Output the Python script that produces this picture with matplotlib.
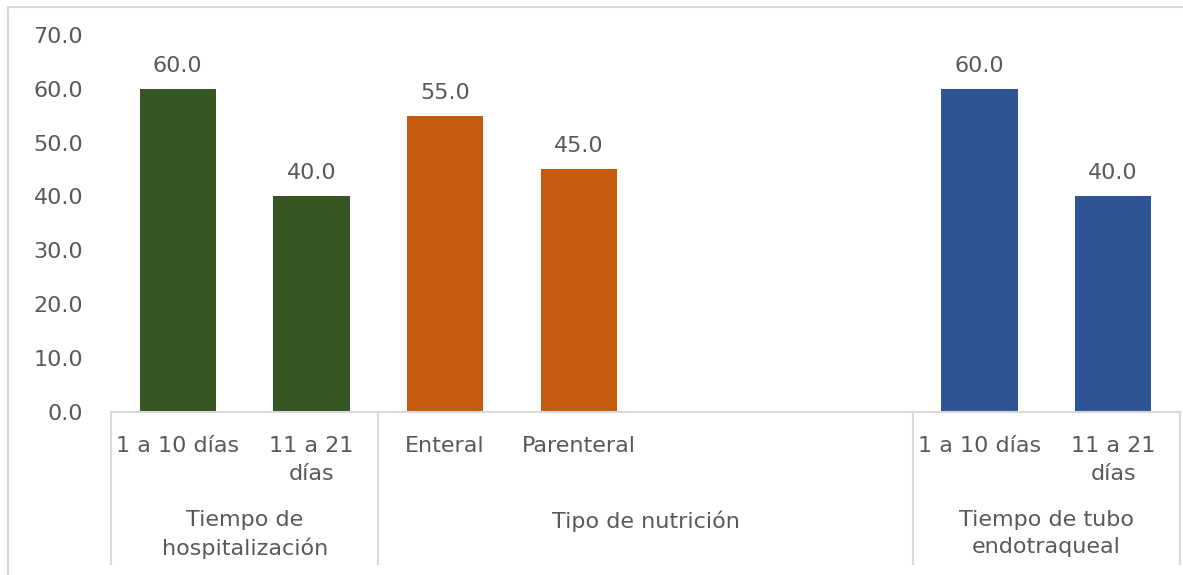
import matplotlib
matplotlib.use("Agg")
import matplotlib.pyplot as plt
from matplotlib.patches import Rectangle
import numpy as np

# ---- data ----
groups = ["Tiempo de\nhospitalización", "Tipo de nutrición", "Tiempo de tubo\nendotraqueal"]
group_sizes = [2, 4, 2]
categories = ["1 a 10 días", "11 a 21\ndías", "Enteral", "Parenteral", "", "", "1 a 10 días", "11 a 21\ndías"]
values = [60.0, 40.0, 55.0, 45.0, None, None, 60.0, 40.0]
group_colors = ["#375623", "#C55A11", "#2F5597"]
y_ticks = [0, 10, 20, 30, 40, 50, 60, 70]

W, H = 1183, 575
fig = plt.figure(figsize=(W / 100, H / 100), dpi=100)
plt.rcParams['font.family'] = ['DejaVu Sans']
txt_color = "#595959"
fs = 16
line_color = "#D9D9D9"

ax = fig.add_axes([111 / W, 1 - 411.5 / H, (1180 - 111) / W, (411.5 - 35) / H])
n = len(categories)
ax.set_xlim(-0.5, n - 0.5)
ax.set_ylim(0, 70)

# colors per slot
slot_colors = []
for g, size in enumerate(group_sizes):
    slot_colors += [group_colors[g]] * size

for i, v in enumerate(values):
    if v is None:
        continue
    ax.bar(i, v, width=0.57, color=slot_colors[i], zorder=2)
    ax.annotate(f"{v:.1f}", xy=(i, v), xytext=(0, 17), textcoords="offset pixels",
                ha="center", va="baseline", fontsize=fs, color=txt_color)

for s in ["top", "right", "left", "bottom"]:
    ax.spines[s].set_visible(False)
ax.axhline(0, color=line_color, lw=1.5, zorder=3, clip_on=False)

ax.set_yticks(y_ticks)
ax.set_yticklabels([f"{t:.1f}" for t in y_ticks], fontsize=fs, color=txt_color)
ax.tick_params(axis="y", length=0, pad=20)
ax.set_xticks([])

# category labels
for i, c in enumerate(categories):
    if not c:
        continue
    ax.annotate(c, xy=(i, 0), xycoords=("data", "axes fraction"), xytext=(0, -24),
                textcoords="offset pixels", ha="center", va="top", fontsize=fs,
                color=txt_color, linespacing=1.55, annotation_clip=False)

# group labels and separators
start = 0
bounds = [-0.5]
for g, size in enumerate(group_sizes):
    center = start + (size - 1) / 2
    ax.annotate(groups[g], xy=(center, 0), xycoords=("data", "axes fraction"), xytext=(0, -99),
                textcoords="offset pixels", ha="center", va="top", fontsize=fs,
                color=txt_color, linespacing=1.42, annotation_clip=False)
    start += size
    bounds.append(start - 0.5)

sep_len = 152 / (411.5 - 35)
for b in bounds:
    ax.plot([b, b], [0, -sep_len], transform=ax.get_xaxis_transform(), color=line_color,
            lw=1.5, clip_on=False)

# chart border
fig.add_artist(Rectangle((8 / W, -0.1), 2, 1 - 7 / H + 0.1, transform=fig.transFigure,
                         fill=False, edgecolor=line_color, lw=1.5))

fig.savefig("out.png", dpi=100, facecolor="white")
